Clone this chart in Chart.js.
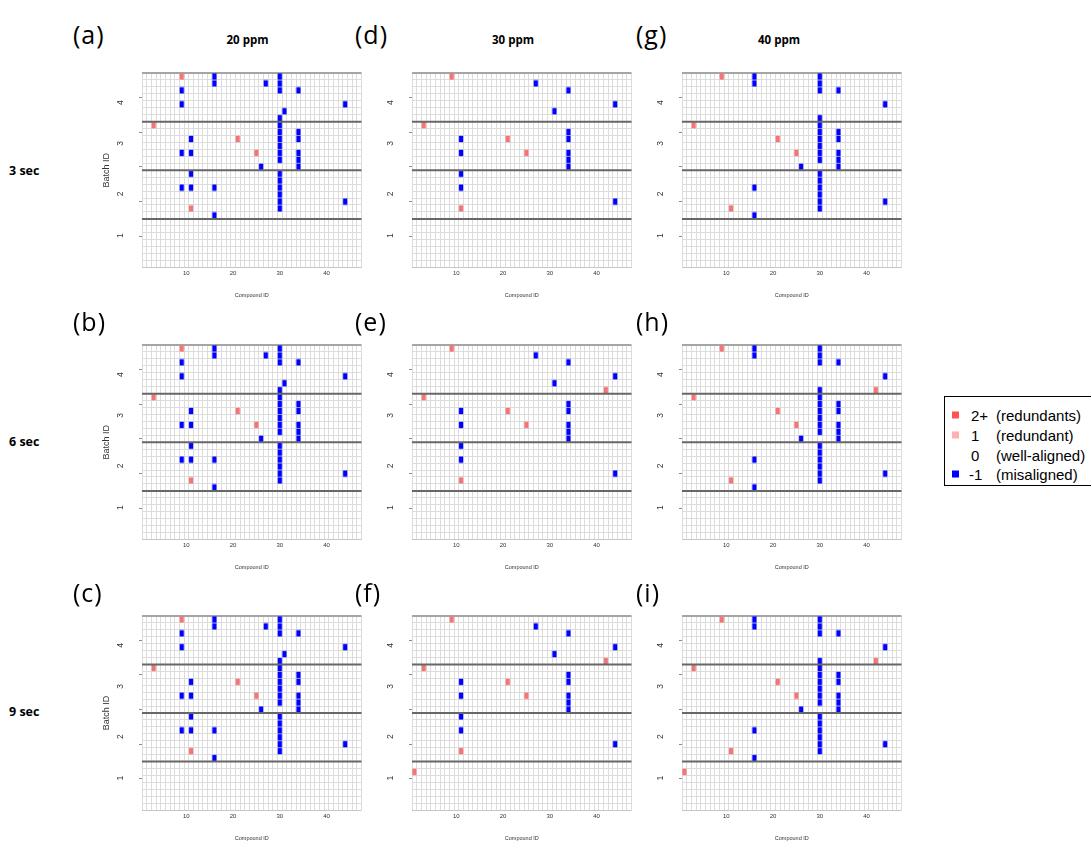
<!DOCTYPE html>
<html>
<head>
<meta charset="utf-8">
<script src="https://cdn.jsdelivr.net/npm/chart.js@4.4.1/dist/chart.umd.min.js"></script>
<style>
html,body{margin:0;padding:0;background:#fff;}
body{width:1091px;height:843px;position:relative;overflow:hidden;}
.txt{position:absolute;color:#000;white-space:nowrap;line-height:1;z-index:5;}
.plab{font-family:'Open Sans',sans-serif;font-size:25px;letter-spacing:1px;transform:translateY(-50%);}
.ttl{font-family:'Open Sans',sans-serif;font-size:11.5px;font-weight:bold;transform:translate(-50%,-50%);}
.sec{font-family:'Open Sans',sans-serif;font-size:12.5px;font-weight:bold;transform:translateY(-50%);}
.panel{position:absolute;overflow:hidden;}
.panel canvas{position:absolute;top:0;}
#legend{position:absolute;left:944px;top:396px;width:170px;height:88px;border:1px solid #000;background:#fff;font-family:'Liberation Sans',Arial,sans-serif;font-size:15px;color:#000;}
#legend .sq{position:absolute;width:7px;height:7px;transform:translateY(-50%);}
#legend .t{position:absolute;transform:translateY(-50%);white-space:nowrap;line-height:1;}
</style>
</head>
<body>
<div id="legend"></div>
<script>
// ---------------- data ----------------
const compoundIds = [1,2,3,4,5,6,7,8,9,10,11,12,13,14,15,16,17,18,19,20,21,22,23,24,25,26,27,28,29,30,31,32,33,34,35,36,37,38,39,40,41,42,43,44,45,46,47];
const sampleRows = 28;                       // rows (samples) per panel, bottom = 1
const xTickLabels = [10, 20, 30, 40];
const batchLabels = ['1', '2', '3', '4'];
const batchLabelPos = [5.1, 11.1, 18.35, 24.25];
const sampleTicks = [5, 10, 15, 20, 25];
const batchBoundaries = [7.5, 14.5, 21.5];
const concentrations = ['20 ppm', '30 ppm', '40 ppm'];
const windows = ['3 sec', '6 sec', '9 sec'];
const panelLetters = ['(a)', '(b)', '(c)', '(d)', '(e)', '(f)', '(g)', '(h)', '(i)'];
const legendValues = ['2+', '1', '0', '-1'];
const legendNames = ['(redundants)', '(redundant)', '(well-aligned)', '(misaligned)'];

// cells: [compound ID, sample row]; value -1 = misaligned, value 2+ = redundant
const panelA_misaligned = [[16,28],[30,28],[16,27],[27,27],[30,27],[9,26],[30,26],[34,26],[9,24],[44,24],[31,23],[30,22],[30,21],[30,20],[34,20],[11,19],[30,19],[34,19],[30,18],[9,17],[11,17],[30,17],[34,17],[30,16],[34,16],[26,15],[34,15],[11,14],[30,14],[30,13],[9,12],[11,12],[16,12],[30,12],[30,11],[30,10],[44,10],[30,9],[16,8]];
const panelA_redundant = [[9,28],[3,21],[21,19],[25,17],[11,9]];
const panelB_misaligned = [[16,28],[30,28],[16,27],[27,27],[30,27],[9,26],[30,26],[34,26],[9,24],[44,24],[31,23],[30,22],[30,21],[30,20],[34,20],[11,19],[30,19],[34,19],[30,18],[9,17],[11,17],[30,17],[34,17],[30,16],[34,16],[26,15],[34,15],[11,14],[30,14],[30,13],[9,12],[11,12],[16,12],[30,12],[30,11],[30,10],[44,10],[30,9],[16,8]];
const panelB_redundant = [[9,28],[3,21],[21,19],[25,17],[11,9]];
const panelC_misaligned = [[16,28],[30,28],[16,27],[27,27],[30,27],[9,26],[30,26],[34,26],[9,24],[44,24],[31,23],[30,22],[30,21],[30,20],[34,20],[11,19],[30,19],[34,19],[30,18],[9,17],[11,17],[30,17],[34,17],[30,16],[34,16],[26,15],[34,15],[11,14],[30,14],[30,13],[9,12],[11,12],[16,12],[30,12],[30,11],[30,10],[44,10],[30,9],[16,8]];
const panelC_redundant = [[9,28],[3,21],[21,19],[25,17],[11,9]];
const panelD_misaligned = [[27,27],[34,26],[44,24],[31,23],[34,20],[11,19],[34,19],[11,17],[34,17],[34,16],[34,15],[11,14],[11,12],[44,10]];
const panelD_redundant = [[9,28],[3,21],[21,19],[25,17],[11,9]];
const panelE_misaligned = [[27,27],[34,26],[44,24],[31,23],[34,20],[11,19],[34,19],[11,17],[34,17],[34,16],[34,15],[11,14],[11,12],[44,10]];
const panelE_redundant = [[9,28],[42,22],[3,21],[21,19],[25,17],[11,9]];
const panelF_misaligned = [[27,27],[34,26],[44,24],[31,23],[34,20],[11,19],[34,19],[11,17],[34,17],[34,16],[34,15],[11,14],[11,12],[44,10]];
const panelF_redundant = [[9,28],[42,22],[3,21],[21,19],[25,17],[11,9],[1,6]];
const panelG_misaligned = [[16,28],[30,28],[16,27],[30,27],[30,26],[34,26],[44,24],[30,22],[30,21],[30,20],[34,20],[30,19],[34,19],[30,18],[30,17],[34,17],[30,16],[34,16],[26,15],[34,15],[30,14],[30,13],[16,12],[30,12],[30,11],[30,10],[44,10],[30,9],[16,8]];
const panelG_redundant = [[9,28],[3,21],[21,19],[25,17],[11,9]];
const panelH_misaligned = [[16,28],[30,28],[16,27],[30,27],[30,26],[34,26],[44,24],[30,22],[30,21],[30,20],[34,20],[30,19],[34,19],[30,18],[30,17],[34,17],[30,16],[34,16],[26,15],[34,15],[30,14],[30,13],[16,12],[30,12],[30,11],[30,10],[44,10],[30,9],[16,8]];
const panelH_redundant = [[9,28],[42,22],[3,21],[21,19],[25,17],[11,9]];
const panelI_misaligned = [[16,28],[30,28],[16,27],[30,27],[30,26],[34,26],[44,24],[30,22],[30,21],[30,20],[34,20],[30,19],[34,19],[30,18],[30,17],[34,17],[30,16],[34,16],[26,15],[34,15],[30,14],[30,13],[16,12],[30,12],[30,11],[30,10],[44,10],[30,9],[16,8]];
const panelI_redundant = [[9,28],[42,22],[3,21],[21,19],[25,17],[11,9],[1,6]];

// ---------------- styles / layout ----------------
const COLORS = {misaligned: '#0000ff', redundant: '#f47575', legend: ['#ff5252', '#ffb0b0', '#ffffff', '#0000ff']};
const plotLefts = [142, 412, 682];
const plotTops = [72.5, 344.5, 615];
const plotW = 219.5, plotH = 195;
const AXIS_W = 42, AXIS_H = 38;

Chart.defaults.font.family = "'Liberation Sans', Arial, sans-serif";
Chart.defaults.color = '#333';

const panels = [
  {col:0,row:0,mis:panelA_misaligned,red:panelA_redundant},
  {col:0,row:1,mis:panelB_misaligned,red:panelB_redundant},
  {col:0,row:2,mis:panelC_misaligned,red:panelC_redundant},
  {col:1,row:0,mis:panelD_misaligned,red:panelD_redundant},
  {col:1,row:1,mis:panelE_misaligned,red:panelE_redundant},
  {col:1,row:2,mis:panelF_misaligned,red:panelF_redundant},
  {col:2,row:0,mis:panelG_misaligned,red:panelG_redundant},
  {col:2,row:1,mis:panelH_misaligned,red:panelH_redundant},
  {col:2,row:2,mis:panelI_misaligned,red:panelI_redundant}
];

const cellCache = new Map();
function cellStyle(ctx, color) {
  const ch = ctx.chart, xs = ch.scales.x, ys = ch.scales.y;
  if (!xs || !ys || !xs.width || !ys.height) return 'rect';
  const cw = Math.abs(xs.getPixelForValue(1) - xs.getPixelForValue(0));
  const rh = Math.abs(ys.getPixelForValue(1) - ys.getPixelForValue(0));
  const key = color + '|' + cw.toFixed(3) + '|' + rh.toFixed(3);
  if (!cellCache.has(key)) {
    const c = document.createElement('canvas');
    const w = Math.ceil(cw) + 1, h = Math.ceil(rh) + 1;
    c.width = w; c.height = h;
    const g = c.getContext('2d');
    const fw = cw - 0.4, fh = rh - 0.6;
    g.fillStyle = color;
    g.fillRect((w - fw) / 2, (h - fh) / 2, fw, fh);
    cellCache.set(key, c);
  }
  return cellCache.get(key);
}

function yTicks() {
  const t = [];
  for (let i = 0; i <= sampleRows; i++) t.push({value: i + 0.5, kind: 'g'});
  sampleTicks.forEach(v => t.push({value: v, kind: 'd'}));
  batchLabels.forEach((lab, i) => t.push({value: batchLabelPos[i], kind: 'l', lab: lab}));
  t.sort((a, b) => a.value - b.value);
  return t;
}

function toPts(arr) { return arr.map(p => ({x: p[0], y: p[1]})); }

function addText(cls, text, x, y) {
  const d = document.createElement('div');
  d.className = 'txt ' + cls;
  d.textContent = text;
  d.style.left = x + 'px';
  d.style.top = y + 'px';
  document.body.appendChild(d);
}

panels.forEach(p => {
  const L = plotLefts[p.col], T = plotTops[p.row];
  const cLeft = L - AXIS_W;
  const cTop = Math.floor(T - 4);
  const padTop = T - cTop;
  const W = 272, H = Math.ceil(padTop + plotH + AXIS_H);
  const padRight = W - AXIS_W - plotW;
  const padBottom = H - padTop - plotH - AXIS_H;

  const clipLeft = p.col === 0 ? cLeft : L - 33;
  const wrap = document.createElement('div');
  wrap.className = 'panel';
  wrap.style.left = clipLeft + 'px';
  wrap.style.top = cTop + 'px';
  wrap.style.width = (cLeft + W - clipLeft) + 'px';
  wrap.style.height = H + 'px';
  const cv = document.createElement('canvas');
  cv.width = W; cv.height = H;
  cv.style.width = W + 'px'; cv.style.height = H + 'px';
  cv.style.left = (cLeft - clipLeft) + 'px';
  wrap.appendChild(cv);
  document.body.appendChild(wrap);

  const datasets = batchBoundaries.map(b => ({
    label: 'batch boundary', data: [{x: 0.5, y: b}, {x: compoundIds.length + 0.5, y: b}],
    showLine: true, borderColor: '#676767', borderWidth: 2, pointRadius: 0, order: 0, clip: false
  }));
  datasets.push({
    label: '-1 (misaligned)', data: toPts(p.mis), order: 1,
    pointStyle: ctx => cellStyle(ctx, COLORS.misaligned), pointRadius: 3, backgroundColor: COLORS.misaligned
  });
  datasets.push({
    label: '2+ (redundants)', data: toPts(p.red), order: 1,
    pointStyle: ctx => cellStyle(ctx, COLORS.redundant), pointRadius: 3, backgroundColor: COLORS.redundant
  });

  new Chart(cv, {
    type: 'scatter',
    data: {datasets},
    options: {
      responsive: false, animation: false, devicePixelRatio: 1,
      layout: {padding: {left: 0, top: padTop, right: padRight, bottom: padBottom}},
      plugins: {legend: {display: false}, tooltip: {enabled: false}},
      events: [],
      scales: {
        x: {
          type: 'linear', min: 0.5, max: compoundIds.length + 0.5,
          afterBuildTicks: s => { s.ticks = compoundIds.map(v => ({value: v})); },
          afterFit: s => { s.height = AXIS_H; s.paddingLeft = 0; s.paddingRight = 0; },
          ticks: {autoSkip: false, maxRotation: 0, minRotation: 0, padding: 2.5, color: '#333', font: {size: 6},
                  callback: v => xTickLabels.includes(v) ? String(v) : ''},
          grid: {offset: true, color: '#dcdcdc', lineWidth: 1, drawTicks: false},
          border: {display: false},
          title: {display: true, text: 'Compound ID', color: '#333', font: {size: 5.5}, padding: {top: 0, bottom: 6.5}}
        },
        y: {
          type: 'linear', min: 0.5, max: sampleRows + 0.5,
          afterBuildTicks: s => { s.ticks = yTicks(); },
          afterFit: s => { s.width = AXIS_W; s.paddingTop = 0; s.paddingBottom = 0; },
          ticks: {autoSkip: false, minRotation: 90, maxRotation: 90, crossAlign: 'center', padding: 15.8,
                  color: '#333', font: {size: 8.5},
                  callback: (v, i, t) => t[i].kind === 'l' ? t[i].lab : ''},
          grid: {
            color: c => { const k = c.tick && c.tick.kind; if (k !== 'g') return 'rgba(0,0,0,0)';
                          if (c.tick.value === sampleRows + 0.5) return '#a5a5a5';
                          if (c.tick.value === 0.5) return '#c6c6c6'; return '#dcdcdc'; },
            lineWidth: c => (c.tick && c.tick.value === sampleRows + 0.5) ? 2 : 1,
            tickColor: c => (c.tick && c.tick.kind === 'd') ? '#8c8c8c' : 'rgba(0,0,0,0)',
            tickWidth: 1, tickLength: 3, drawTicks: true
          },
          border: {display: false},
          title: {display: true, text: 'Batch ID', color: '#333', font: {size: 9}, padding: {top: 1.5, bottom: 0}}
        }
      }
    }
  });
});

// panel letters
const letterX = [73, 355, 636], letterY = [34, 321, 592];
panelLetters.forEach((t, i) => addText('plab', t, letterX[Math.floor(i / 3)], letterY[i % 3]));
// column titles
const titleX = [247.5, 513, 779];
concentrations.forEach((t, i) => addText('ttl', t, titleX[i], 40));
// row titles
const secY = [170.5, 442, 712];
windows.forEach((t, i) => addText('sec', t, 9, secY[i]));

// legend
const lg = document.getElementById('legend');
const rowY = [18, 38, 58, 77];
legendValues.forEach((v, i) => {
  if (i !== 2) {
    const sq = document.createElement('div');
    sq.className = 'sq'; sq.style.left = '7px'; sq.style.top = rowY[i] + 'px';
    sq.style.background = COLORS.legend[i];
    lg.appendChild(sq);
  }
  const a = document.createElement('div');
  a.className = 't'; a.textContent = v; a.style.left = (v === '-1' ? 24 : 26) + 'px'; a.style.top = rowY[i] + 'px';
  lg.appendChild(a);
  const b = document.createElement('div');
  b.className = 't'; b.textContent = legendNames[i]; b.style.left = '51px'; b.style.top = rowY[i] + 'px';
  lg.appendChild(b);
});
</script>
</body>
</html>
